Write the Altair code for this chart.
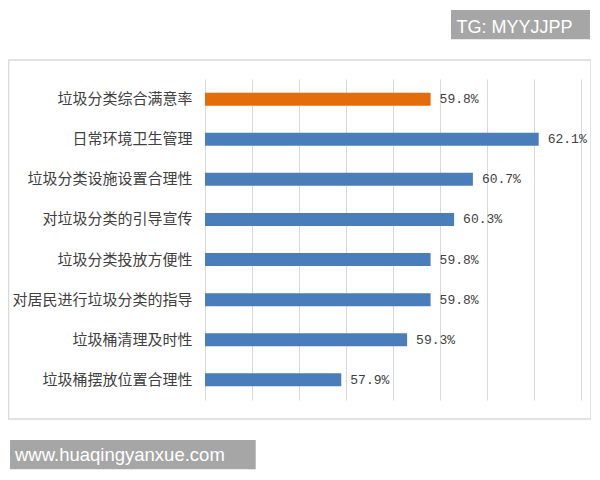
import altair as alt
import pandas as pd

categories = [
    "垃圾分类综合满意率",
    "日常环境卫生管理",
    "垃圾分类设施设置合理性",
    "对垃圾分类的引导宣传",
    "垃圾分类投放方便性",
    "对居民进行垃圾分类的指导",
    "垃圾桶清理及时性",
    "垃圾桶摆放位置合理性",
]
values = [59.8, 62.1, 60.7, 60.3, 59.8, 59.8, 59.3, 57.9]
axis_ticks = [55, 56, 57, 58, 59, 60, 61, 62, 63]
highlight = "垃圾分类综合满意率"

df = pd.DataFrame({"category": categories, "value": values})

W, H = 376, 321
PAD_L, PAD_T, PAD_R, PAD_B = 197, 71, 10, 70

x_scale = alt.Scale(domain=[axis_ticks[0], axis_ticks[-1]], zero=False, nice=False)
y_scale = alt.Scale(domain=categories, paddingInner=0.675, paddingOuter=0.34)

base = alt.Chart(df).transform_calculate(
    base=str(axis_ticks[0]),
    label="format(datum.value, '.1f') + '%'",
)

bars = base.mark_bar(size=13).encode(
    x=alt.X(
        "value:Q",
        scale=x_scale,
        axis=alt.Axis(
            values=axis_ticks, grid=True, gridColor="#d9d9d9", gridWidth=1,
            labels=False, ticks=False, domain=False, title=None,
        ),
    ),
    x2="base:Q",
    y=alt.Y(
        "category:N",
        sort=categories,
        scale=y_scale,
        axis=alt.Axis(
            title=None, ticks=False, domain=False, labelPadding=13,
            labelFontSize=15, labelFont="Noto Sans CJK SC", labelColor="#404040",
            labelLimit=400,
        ),
    ),
    color=alt.condition(
        alt.datum.category == highlight, alt.value("#E46C0A"), alt.value("#4A7EBB")
    ),
)

texts = base.mark_text(
    align="left", baseline="middle", dx=9, font="Liberation Mono",
    fontSize=13, color="#404040",
).encode(
    x=alt.X("value:Q", scale=x_scale),
    y=alt.Y("category:N", sort=categories, scale=y_scale),
    text="label:N",
)

deco = pd.DataFrame({"k": [0]})

frame = alt.Chart(deco).mark_rect(
    fill="white", fillOpacity=0, stroke="#d9d9d9", strokeWidth=1.5
).encode(
    x=alt.value(-196.5), x2=alt.value(386), y=alt.value(-19), y2=alt.value(340)
)

tg_box = alt.Chart(deco).mark_rect(fill="#a6a6a6").encode(
    x=alt.value(246), x2=alt.value(385), y=alt.value(-69), y2=alt.value(-39.7)
)
tg_text = alt.Chart(deco).mark_text(
    align="left", baseline="alphabetic", font="Liberation Sans", fontSize=18,
    color="white",
).encode(x=alt.value(251.5), y=alt.value(-46.5), text=alt.value("TG: MYYJJPP"))

www_box = alt.Chart(deco).mark_rect(fill="#a6a6a6").encode(
    x=alt.value(-195), x2=alt.value(50.7), y=alt.value(361), y2=alt.value(390.3)
)
www_text = alt.Chart(deco).mark_text(
    align="left", baseline="alphabetic", font="Liberation Sans", fontSize=18.5,
    color="white",
).encode(x=alt.value(-190), y=alt.value(381.7), text=alt.value("www.huaqingyanxue.com"))

chart = alt.layer(
    frame, bars, texts, tg_box, tg_text, www_box, www_text
).properties(
    width=W, height=H,
    autosize=alt.AutoSizeParams(type="none"),
    padding={"left": PAD_L, "top": PAD_T, "right": PAD_R, "bottom": PAD_B},
).configure_view(stroke=None)

chart.save("out.html", embed_options={"renderer": "svg", "actions": False})
